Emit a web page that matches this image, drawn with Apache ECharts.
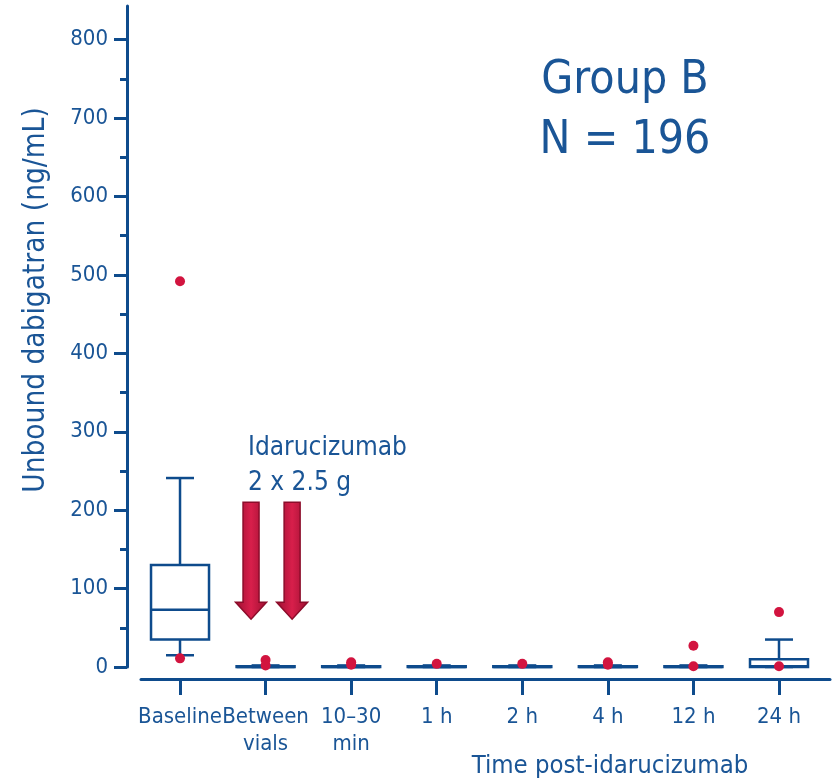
<!DOCTYPE html>
<html>
<head>
<meta charset="utf-8">
<script src="https://cdn.jsdelivr.net/npm/echarts@6/dist/echarts.min.js"></script>
<style>html,body{margin:0;padding:0;background:#fff}#c{width:833px;height:780px}</style>
</head>
<body>
<div id="c"></div>
<script>
// ---- data ----
const categories = ['Baseline', 'Between\nvials', '10–30\nmin', '1 h', '2 h', '4 h', '12 h', '24 h'];
// [min whisker, Q1, median, Q3, max whisker]
const boxStats = [
  [15, 35, 73, 130, 241],
  [0, 0, 0, 1, 2],
  [0, 0, 0, 1, 2],
  [0, 0, 0, 1, 2],
  [0, 0, 0, 1, 2],
  [0, 0, 0, 1, 2],
  [0, 0, 0, 1, 2],
  [0, 0, 1, 10, 35]
];
// red points [category index, value]
const outliers = [
  [0, 492], [0, 11],
  [1, 9], [1, 2],
  [2, 6], [2, 3],
  [3, 4],
  [4, 4],
  [5, 6], [5, 3],
  [6, 27], [6, 1],
  [7, 70], [7, 1]
];
// arrows [x position (category units), top value, tip value]
const arrows = [[0.83, 210, 61], [1.31, 210, 61]];
const yTickValues = [0, 100, 200, 300, 400, 500, 600, 700, 800];
const yMinorTickValues = [50, 150, 250, 350, 450, 550, 650, 750];

const BLUE = '#0e4b8c';
const TEXT = '#1a5596';
const RED = '#d2143f';
const FONT = '"DejaVu Sans Condensed", "DejaVu Sans", sans-serif';

const chart = echarts.init(document.getElementById('c'), null, {renderer: 'canvas'});

const idx = categories.map((_, i) => i);

const option = {
  backgroundColor: '#fff',
  animation: false,
  grid: {left: 141, right: 3, top: 6, bottom: 113, containLabel: false},
  xAxis: {
    type: 'value',
    min: -0.456,
    max: 7.596,
    offset: 12,
    axisLine: {show: true, onZero: false, lineStyle: {color: BLUE, width: 3}},
    axisTick: {show: true, customValues: idx, length: 16, inside: false, lineStyle: {color: BLUE, width: 3}},
    axisLabel: {
      customValues: idx,
      formatter: v => categories[Math.round(v)] || '',
      color: TEXT, fontFamily: FONT, fontSize: 22, lineHeight: 27, margin: 25
    },
    splitLine: {show: false}
  },
  yAxis: [{
    type: 'value',
    min: 0,
    max: 843,
    offset: 14,
    axisLine: {show: true, onZero: false, lineStyle: {color: BLUE, width: 3}},
    axisTick: {show: true, customValues: yTickValues, length: 13, lineStyle: {color: BLUE, width: 3}},
    axisLabel: {
      customValues: yTickValues,
      color: TEXT, fontFamily: FONT, fontSize: 22, margin: 19
    },
    splitLine: {show: false}
  }, {
    type: 'value',
    position: 'left',
    min: 0,
    max: 843,
    offset: 14,
    axisLine: {show: false, onZero: false},
    axisTick: {show: true, customValues: yMinorTickValues, length: 7, lineStyle: {color: BLUE, width: 3}},
    axisLabel: {show: false},
    splitLine: {show: false}
  }],
  series: [
    {
      type: 'custom',
      name: 'box',
      data: boxStats.map((b, i) => [i].concat(b)),
      clip: false,
      z: 2,
      renderItem: function (params, api) {
        const i = api.value(0);
        const mn = api.coord([i, api.value(1)]);
        const q1 = api.coord([i, api.value(2)]);
        const md = api.coord([i, api.value(3)]);
        const q3 = api.coord([i, api.value(4)]);
        const mx = api.coord([i, api.value(5)]);
        const half = 29, cap = 14;
        const cx = mn[0];
        const st = {stroke: BLUE, lineWidth: 2.5, fill: null};
        return {
          type: 'group',
          children: [
            {type: 'line', shape: {x1: cx, y1: q3[1], x2: cx, y2: mx[1]}, style: st},
            {type: 'line', shape: {x1: cx - cap, y1: mx[1], x2: cx + cap, y2: mx[1]}, style: st},
            {type: 'line', shape: {x1: cx, y1: q1[1], x2: cx, y2: mn[1]}, style: st},
            {type: 'line', shape: {x1: cx - cap, y1: mn[1], x2: cx + cap, y2: mn[1]}, style: st},
            {type: 'rect', shape: {x: cx - half, y: q3[1], width: half * 2, height: Math.max(q1[1] - q3[1], 0.5)},
              style: {stroke: BLUE, lineWidth: 2.5, fill: '#fff'}},
            {type: 'line', shape: {x1: cx - half, y1: md[1], x2: cx + half, y2: md[1]}, style: st}
          ]
        };
      }
    },
    {
      type: 'custom',
      name: 'arrows',
      data: arrows,
      clip: false,
      z: 3,
      renderItem: function (params, api) {
        const top = api.coord([api.value(0), api.value(1)]);
        const tip = api.coord([api.value(0), api.value(2)]);
        const cx = top[0], sh = 8, hh = 15.5, hl = 17;
        const pts = [
          [cx - sh, top[1]], [cx + sh, top[1]], [cx + sh, tip[1] - hl], [cx + hh, tip[1] - hl],
          [cx, tip[1]], [cx - hh, tip[1] - hl], [cx - sh, tip[1] - hl]
        ];
        return {
          type: 'polygon',
          shape: {points: pts},
          style: {
            fill: new echarts.graphic.LinearGradient(0, 0, 1, 0, [
              {offset: 0, color: '#9c0f31'},
              {offset: 0.5, color: '#d81f4b'},
              {offset: 1, color: '#9c0f31'}
            ]),
            stroke: '#8c0c2a',
            lineWidth: 1.5
          }
        };
      }
    },
    {
      type: 'scatter',
      name: 'points',
      data: outliers,
      symbol: 'circle',
      symbolSize: 10,
      itemStyle: {color: RED, opacity: 1},
      z: 5,
      clip: false
    }
  ],
  graphic: [
    {
      type: 'text', x: 625, y: 111,
      style: {text: 'Group B\nN = 196', fill: TEXT, font: '46px ' + FONT, align: 'center', verticalAlign: 'middle', lineHeight: 60}
    },
    {
      type: 'text', x: 248, y: 431,
      style: {text: 'Idarucizumab\n2 x 2.5 g', fill: TEXT, font: '26px ' + FONT, align: 'left', verticalAlign: 'top', lineHeight: 35}
    },
    {
      type: 'text', x: 610, y: 779,
      style: {text: 'Time post-idarucizumab', fill: TEXT, font: '25.5px ' + FONT, align: 'center', verticalAlign: 'bottom'}
    },
    {
      type: 'text', x: 36, y: 300, rotation: Math.PI / 2,
      style: {text: 'Unbound dabigatran (ng/mL)', fill: TEXT, font: '29.5px ' + FONT, align: 'center', verticalAlign: 'middle'}
    }
  ]
};
chart.setOption(option);
</script>
</body>
</html>
